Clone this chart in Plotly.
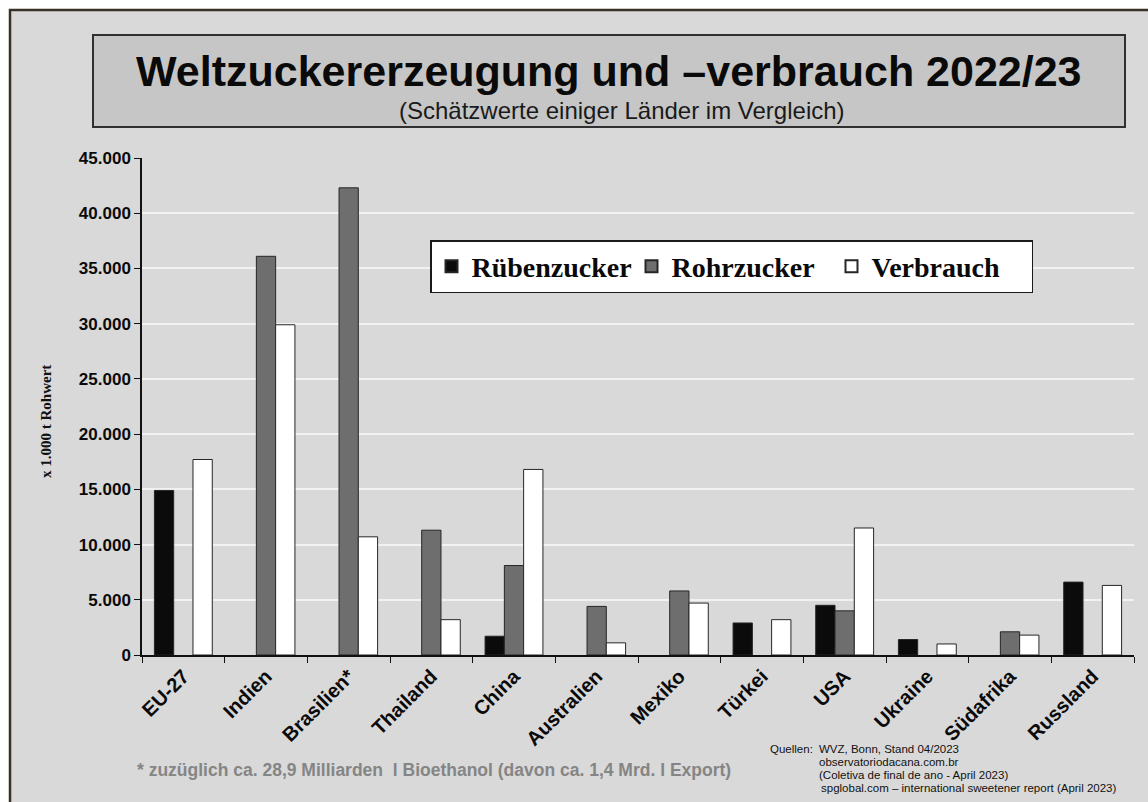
import plotly.graph_objects as go

# Countries and estimated values (x 1.000 t Rohwert), 2022/23; None = no production
laender = ["EU-27", "Indien", "Brasilien*", "Thailand", "China", "Australien",
           "Mexiko", "Türkei", "USA", "Ukraine", "Südafrika", "Russland"]
ruebenzucker = [14900, None, None, None, 1700, None, None, 2900, 4500, 1400, None, 6600]
rohrzucker = [None, 36100, 42300, 11300, 8100, 4400, 5800, None, 4000, None, 2100, None]
verbrauch = [17700, 29900, 10700, 3200, 16800, 1100, 4700, 3200, 11500, 1000, 1800, 6300]

y_ticks = [0, 5000, 10000, 15000, 20000, 25000, 30000, 35000, 40000, 45000]

quellen = ["WVZ, Bonn, Stand 04/2023",
           "observatoriodacana.com.br",
           "(Coletiva de final de ano - April 2023)",
           "spglobal.com – international sweetener report (April 2023)"]

W, H = 1148, 802
L, R, T, B = 142, 14, 158, 147
PW, PH = W - L - R, H - T - B


def px(x):
    return (x - L) / PW


def py(y):
    return (H - B - y) / PH


SANS = "Liberation Sans, Arial, sans-serif"
SERIF = "Liberation Serif, Times New Roman, serif"
outline = dict(color="#262626", width=1)

fig = go.Figure()
fig.add_trace(go.Bar(name="Rübenzucker", x=laender, y=ruebenzucker,
                     marker=dict(color="#0b0b0b", line=outline)))
fig.add_trace(go.Bar(name="Rohrzucker", x=laender, y=rohrzucker,
                     marker=dict(color="#6e6e6e", line=outline)))
fig.add_trace(go.Bar(name="Verbrauch", x=laender, y=verbrauch,
                     marker=dict(color="#ffffff", line=outline)))

shapes = [
    # outer frame
    dict(type="rect", xref="paper", yref="paper", layer="below",
         x0=px(10), x1=px(1160), y0=py(815), y1=py(10),
         fillcolor="#d9d9d9", line=dict(color="#3a3026", width=2.5)),
    # title box
    dict(type="rect", xref="paper", yref="paper", layer="below",
         x0=px(93), x1=px(1125), y0=py(127), y1=py(35),
         fillcolor="#c6c6c6", line=dict(color="#303030", width=2)),
]

annotations = [
    dict(text="<b>Weltzuckererzeugung und –verbrauch 2022/23</b>",
         x=px(609), y=py(71), xref="paper", yref="paper", showarrow=False,
         xanchor="center", yanchor="middle",
         font=dict(family=SANS, size=43, color="#0a0a0a")),
    dict(text="(Schätzwerte einiger Länder im Vergleich)",
         x=px(622), y=py(110), xref="paper", yref="paper", showarrow=False,
         xanchor="center", yanchor="middle",
         font=dict(family=SANS, size=24, color="#1a1a1a")),
    dict(text="<b>x 1.000 t Rohwert</b>", textangle=-90,
         x=px(46), y=py(422), xref="paper", yref="paper", showarrow=False,
         xanchor="center", yanchor="middle",
         font=dict(family=SERIF, size=15, color="#111111")),
    dict(text="<b>* zuzüglich ca. 28,9 Milliarden  l Bioethanol (davon ca. 1,4 Mrd. l Export)</b>",
         x=px(135), y=py(770), xref="paper", yref="paper", showarrow=False,
         xanchor="left", yanchor="middle",
         font=dict(family=SANS, size=17.5, color="#858585")),
    dict(text="Quellen:",
         x=px(768), y=py(749), xref="paper", yref="paper", showarrow=False,
         xanchor="left", yanchor="middle",
         font=dict(family=SANS, size=11.5, color="#111111")),
]
for i, zeile in enumerate(quellen):
    annotations.append(dict(
        text=zeile, x=px(817 if i < 3 else 819), y=py(749 + 13 * i),
        xref="paper", yref="paper", showarrow=False,
        xanchor="left", yanchor="middle",
        font=dict(family=SANS, size=11.5, color="#111111")))

fig.update_layout(
    width=W, height=H,
    margin=dict(l=L, r=R, t=T, b=B, pad=0),
    paper_bgcolor="#ffffff",
    plot_bgcolor="#e2e2e2",
    separators=",.",
    barmode="group", bargap=0.3, bargroupgap=0,
    shapes=shapes,
    annotations=annotations,
    legend=dict(
        orientation="h", x=px(430), y=py(240), xanchor="left", yanchor="top",
        xref="paper", yref="paper",
        bgcolor="#ffffff", bordercolor="#1a1a1a", borderwidth=1.5,
        font=dict(family=SERIF, size=28, color="#0a0a0a", weight="bold"),
        itemsizing="constant", itemwidth=30,
        entrywidth=155, entrywidthmode="pixels",
    ),
    xaxis=dict(
        type="category", tickangle=-45, tickson="boundaries",
        ticks="outside", ticklen=6, tickcolor="#111111",
        showline=True, linecolor="#111111", linewidth=1.5,
        showgrid=False,
        tickfont=dict(family=SANS, size=20, color="#0a0a0a", weight="bold"),
    ),
    yaxis=dict(
        range=[0, 45000], tickvals=y_ticks, tickformat=",.0f",
        ticks="outside", ticklen=6, tickcolor="#111111",
        showline=True, linecolor="#111111", linewidth=1.5,
        showgrid=True, gridcolor="#f2f2f2", gridwidth=1.5,
        zeroline=False,
        tickfont=dict(family=SANS, size=17, color="#0a0a0a", weight="bold"),
    ),
    showlegend=True,
)

fig.write_html("out.html")
